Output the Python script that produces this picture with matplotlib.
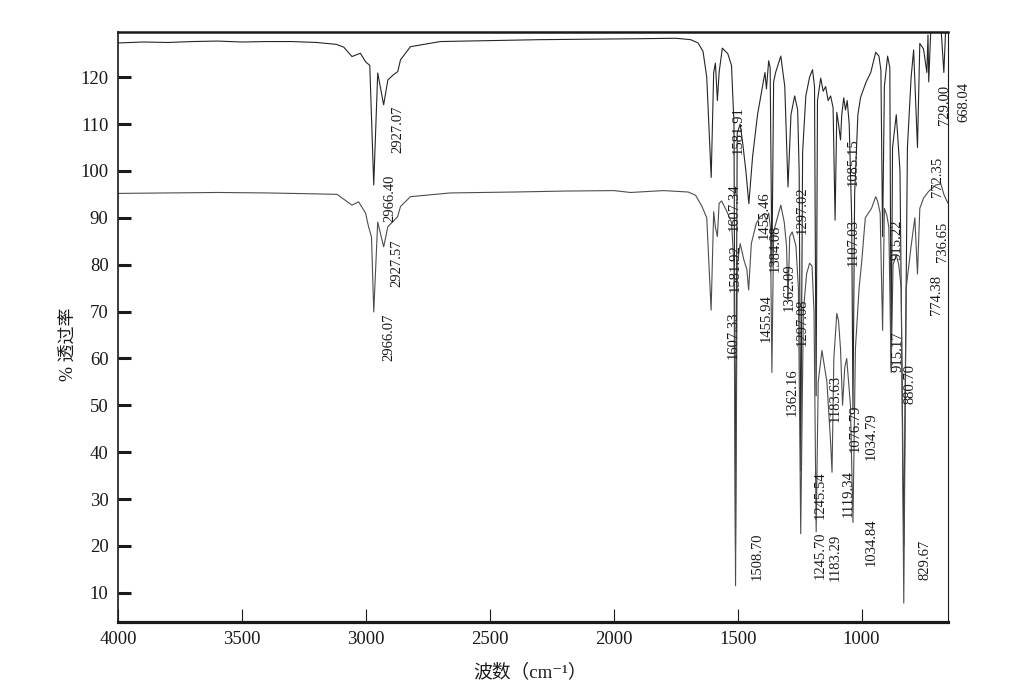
import numpy as np
import matplotlib
matplotlib.use("Agg")
import matplotlib.pyplot as plt

plt.rcParams["font.family"] = ["Liberation Serif", "Noto Sans CJK SC", "DejaVu Sans"]

# ==========================================
# DATA
# ==========================================
# upper trace: wavenumber (cm-1) / % transmittance
top_wn = [4000, 3900, 3800, 3700, 3600, 3500, 3400, 3300, 3200, 3120, 3090, 3057, 3023,
          3002, 2985, 2969, 2953, 2929, 2912, 2890, 2872, 2861, 2821, 2700, 2500, 2300,
          2100, 1900, 1750, 1690, 1660, 1640, 1625, 1607, 1597, 1590, 1582, 1575, 1562,
          1540, 1525, 1515, 1509, 1502, 1490, 1480, 1467, 1455, 1440, 1420, 1400, 1390,
          1384, 1375, 1369, 1362, 1355, 1347, 1326, 1310, 1297, 1285, 1270, 1258, 1252,
          1245.5, 1238, 1225, 1210, 1198, 1190, 1183.6, 1178, 1165, 1155, 1145, 1135,
          1125, 1115, 1107, 1100, 1093, 1085, 1080, 1072, 1065, 1058, 1050, 1040, 1034.8,
          1028, 1015, 1004, 983, 963, 943, 930, 922, 915.2, 908, 895, 886, 880.7, 875,
          860, 845, 829.7, 815, 800, 790, 774.4, 765, 750, 736.6, 732, 729, 720, 700,
          680, 668, 660, 650]
top_t = [127.3, 127.5, 127.4, 127.6, 127.7, 127.5, 127.6, 127.6, 127.4, 127.0, 126.4, 124.4,
         125.1, 123.3, 122.5, 97.0, 120.9, 114.1, 119.4, 120.5, 121.2, 123.7, 126.5, 127.6,
         127.8, 128.0, 128.1, 128.2, 128.3, 128.0, 127.3, 125.5, 120.0, 98.6, 121.0, 123.0,
         115.0, 121.0, 126.2, 125.0, 122.5, 110.0, 20.0, 108.0, 110.0, 106.0, 100.0, 93.0,
         103.0, 112.0, 118.0, 121.0, 117.5, 123.5, 122.0, 79.5, 119.0, 121.0, 124.5, 118.0,
         96.6, 112.0, 116.0, 113.0, 100.0, 36.0, 104.0, 116.0, 120.0, 121.6, 118.0, 52.0,
         115.0, 119.8, 117.0, 118.0, 115.0, 116.0, 113.5, 89.5, 112.5, 110.0, 106.6, 112.0,
         115.6, 113.0, 115.0, 110.0, 90.0, 49.0, 95.0, 112.0, 115.7, 118.8, 121.0, 125.3,
         124.5, 121.5, 86.0, 118.0, 124.5, 122.0, 58.0, 105.0, 112.0, 100.0, 20.0, 105.0,
         120.0, 125.8, 105.0, 127.2, 126.0, 121.0, 129.0, 119.0, 131.0, 131.0, 131.0,
         121.0, 131.0, 131.0]

# lower trace
bot_wn = [4000, 3800, 3600, 3400, 3200, 3117, 3057, 3030, 3002, 2990, 2978, 2969, 2953,
          2929, 2912, 2873, 2861, 2821, 2660, 2400, 2200, 2000, 1932, 1800, 1700, 1670,
          1645, 1625, 1607.3, 1597, 1590, 1582, 1575, 1565, 1545, 1525, 1515, 1508.7,
          1502, 1490, 1475, 1463, 1455.9, 1445, 1425, 1410, 1395, 1384, 1375, 1368, 1362,
          1355, 1340, 1326, 1312, 1303, 1297, 1290, 1280, 1265, 1255, 1245.7, 1235, 1222,
          1210, 1200, 1192, 1183.3, 1175, 1160, 1140, 1125, 1119.3, 1112, 1100, 1093,
          1085, 1076.8, 1068, 1060, 1045, 1034.8, 1025, 1010, 1000, 985, 960, 943, 935,
          925, 915.2, 908, 898, 890, 880.7, 873, 860, 850, 840, 829.7, 820, 800, 785,
          774.4, 765, 750, 730, 700, 680, 668, 655, 650]
bot_t = [95.2, 95.3, 95.4, 95.3, 95.1, 95.0, 92.7, 93.4, 91.0, 88.1, 85.9, 69.9, 89.1,
         83.8, 88.1, 90.2, 92.4, 94.5, 95.3, 95.5, 95.7, 95.8, 95.4, 95.8, 95.5, 94.8,
         92.5, 90.0, 70.3, 91.3, 88.0, 86.0, 93.1, 93.6, 91.5, 89.0, 80.0, 11.5, 80.0,
         84.5, 81.0, 79.0, 74.6, 84.5, 88.8, 90.2, 90.8, 89.5, 91.0, 88.0, 57.0, 87.0,
         90.0, 92.7, 89.0, 84.0, 72.4, 86.0, 87.0, 84.0, 75.0, 22.6, 70.0, 78.0, 80.3,
         79.7, 70.0, 23.0, 55.0, 61.7, 55.0, 42.0, 35.7, 60.0, 69.6, 68.0, 62.0, 50.0,
         58.0, 60.0, 50.0, 25.0, 62.0, 75.0, 80.3, 90.0, 92.0, 94.5, 93.5, 91.0, 66.0,
         92.0, 90.5, 88.0, 57.0, 80.0, 82.0, 80.0, 75.0, 7.8, 75.0, 84.0, 90.0, 78.0,
         92.0, 94.2, 95.6, 97.0, 97.2, 95.0, 93.5, 93.0]

# peak labels as printed on the chart: text, wavenumber, transmittance
peak_text = ["2927.07", "2966.40", "2927.57", "2966.07", "1581.91", "1607.34", "1581.92",
             "1607.33", "1508.70", "1455.46", "1384.08", "1455.94", "1362.09", "1297.02",
             "1297.08", "1362.16", "1245.54", "1245.70", "1183.29", "1183.63", "1119.34",
             "1076.79", "1034.79", "1034.84", "1107.03", "1085.15", "915.22", "915.17",
             "880.70", "829.67", "774.38", "736.65", "772.35", "729.00", "668.04"]
peak_x = [2871, 2904, 2875, 2908, 1499, 1515, 1511, 1519, 1422, 1393, 1347, 1386, 1293,
          1241, 1241, 1281, 1168, 1168, 1108, 1108, 1055, 1027, 962, 962, 1035, 1035,
          857, 853, 805, 745, 696, 672, 692, 664, 587]
peak_y = [108.8, 94.2, 80.4, 64.4, 108.8, 92.3, 79.3, 65.0, 17.8, 90.5, 83.5, 68.6, 75.2,
          91.7, 67.8, 52.8, 30.8, 18.0, 17.6, 51.5, 31.1, 45.1, 43.4, 20.8, 84.8, 101.9,
          85.3, 61.4, 54.5, 17.0, 73.5, 84.8, 98.7, 114.1, 114.7]

x_ticks = [4000, 3500, 3000, 2500, 2000, 1500, 1000]
y_ticks = [10, 20, 30, 40, 50, 60, 70, 80, 90, 100, 110, 120]

# ==========================================
# PLOT
# ==========================================
fig = plt.figure(figsize=(10.12, 6.9), dpi=100)
ax = fig.add_axes([118.3 / 1012, 1 - 622.3 / 690, 830 / 1012, 590.6 / 690])

ax.plot(top_wn, top_t, color="#262626", linewidth=0.8)
ax.plot(bot_wn, bot_t, color="#4d4d4d", linewidth=0.8)

for txt, px, py in zip(peak_text, peak_x, peak_y):
    ax.text(px, py, txt, rotation=90, ha="center", va="center",
            fontsize=10.5, color="#1a1a1a", clip_on=False)

ax.set_xlim(4000, 650)
ax.set_ylim(3.7, 129.7)
ax.set_xticks(x_ticks)
ax.set_yticks(y_ticks)

ax.tick_params(axis="y", direction="in", length=9.5, width=2.2, pad=7,
               labelsize=13.5, colors="#1a1a1a")
ax.tick_params(axis="x", direction="in", length=9.5, width=0.8, pad=6,
               labelsize=13.5, colors="#1a1a1a")

ax.spines["left"].set_linewidth(1.2)
ax.spines["right"].set_linewidth(0.8)
ax.spines["top"].set_linewidth(1.8)
ax.spines["bottom"].set_linewidth(2.3)
for s in ax.spines.values():
    s.set_color("#1a1a1a")

fig.text(69 / 1012, 1 - 344 / 690, "% 透过率", rotation=90, ha="center", va="center",
         fontsize=13, color="#1a1a1a")
fig.text(530 / 1012, 1 - 672 / 690, "波数（cm⁻¹）", ha="center", va="center",
         fontsize=13.5, color="#1a1a1a")

plt.savefig("out.png", dpi=100)
